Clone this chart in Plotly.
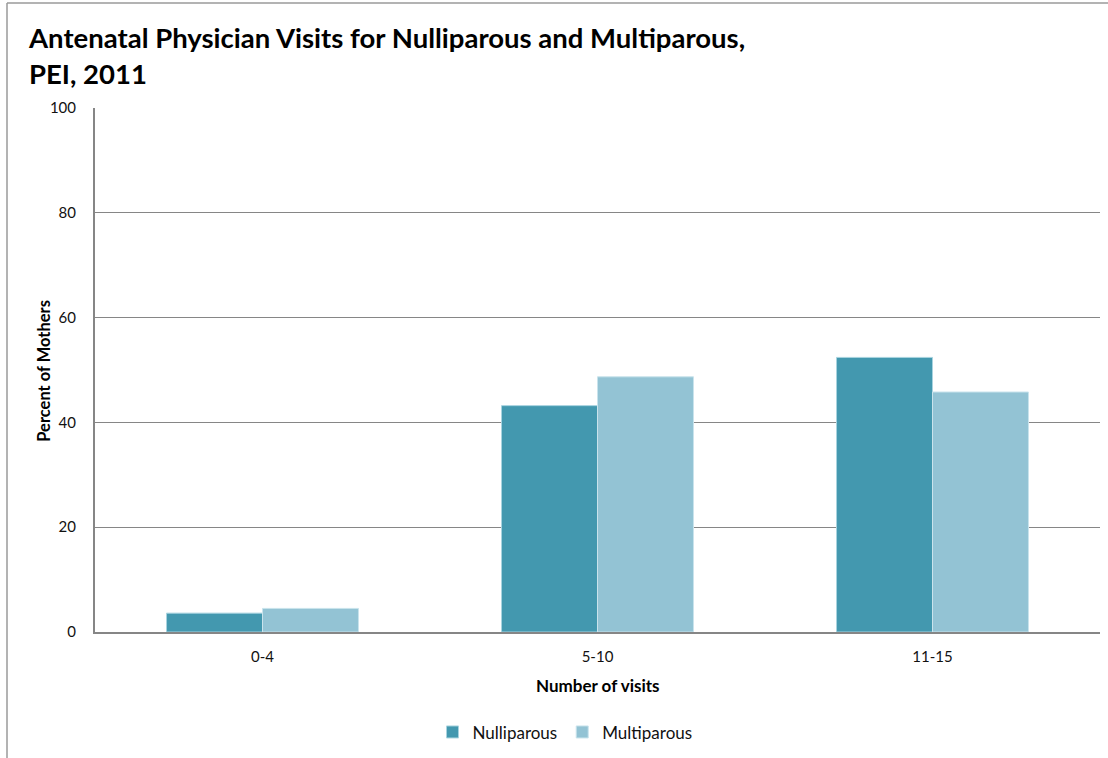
import plotly.graph_objects as go

# Visit-count bins and share of mothers (%) by parity
visit_bins = ["0-4", "5-10", "11-15"]
nulliparous = [3.6, 43.2, 52.4]
multiparous = [4.5, 48.7, 45.8]
y_ticks = [0, 20, 40, 60, 80, 100]

FONT = "Lato, 'Open Sans', sans-serif"
NULLI_COLOR = "#4398AF"
MULTI_COLOR = "#93C3D4"

# Plot-area geometry in pixels (used to place titles in paper units)
L, R, T, B = 95, 1100, 108, 632.5
W, H = R - L, B - T


def px_x(px):
    return (px - L) / W


def px_y(py):
    return (B - py) / H


fig = go.Figure()
fig.add_trace(go.Bar(
    name="Nulliparous", x=visit_bins, y=nulliparous,
    marker=dict(color=NULLI_COLOR, line=dict(color="#A8D3DF", width=1)),
))
fig.add_trace(go.Bar(
    name="Multiparous", x=visit_bins, y=multiparous,
    marker=dict(color=MULTI_COLOR, line=dict(color="#C9E3EC", width=1)),
))

fig.update_layout(
    width=1108, height=758,
    margin=dict(l=L, r=1108 - R, t=T, b=758 - B),
    paper_bgcolor="white", plot_bgcolor="white",
    barmode="group", bargap=0.427, bargroupgap=0,
    font=dict(family=FONT, color="#000000"),
    xaxis=dict(
        showline=True, linecolor="#868686", linewidth=2,
        ticks="", tickfont=dict(size=15, family=FONT, color="#111111"),
        ticklabelstandoff=10,
    ),
    yaxis=dict(
        range=[0, 100], tickvals=y_ticks,
        showline=True, linecolor="#868686", linewidth=2,
        showgrid=True, gridcolor="#868686", gridwidth=1,
        zeroline=False,
        ticks="", tickfont=dict(size=15, family=FONT, color="#111111"),
        ticklabelstandoff=14,
    ),
    legend=dict(
        orientation="h", x=px_x(565), xanchor="center",
        y=px_y(733), yanchor="middle",
        font=dict(size=17, family=FONT, color="#111111"),
        traceorder="normal",
    ),
    annotations=[
        dict(text="<b>Antenatal Physician Visits for Nulliparous and Multiparous,<br>PEI, 2011</b>",
             xref="paper", yref="paper", x=px_x(26), y=px_y(19),
             xanchor="left", yanchor="top", align="left", showarrow=False,
             font=dict(size=27.5, family=FONT, color="#000000")),
        dict(text="<b>Percent of Mothers</b>", textangle=-90,
             xref="paper", yref="paper", x=px_x(44), y=px_y(371),
             xanchor="center", yanchor="middle", showarrow=False,
             font=dict(size=16.5, family=FONT, color="#000000")),
        dict(text="<b>Number of visits</b>",
             xref="paper", yref="paper", x=px_x(598), y=px_y(686),
             xanchor="center", yanchor="middle", showarrow=False,
             font=dict(size=17, family=FONT, color="#000000")),
    ],
    # Outer chart frame (left and top edges)
    shapes=[
        dict(type="line", xref="paper", yref="paper",
             x0=px_x(7), x1=px_x(1110), y0=px_y(3), y1=px_y(3),
             line=dict(color="#9A9A9A", width=1.5)),
        dict(type="line", xref="paper", yref="paper",
             x0=px_x(7), x1=px_x(7), y0=px_y(3), y1=px_y(760),
             line=dict(color="#9A9A9A", width=1.5)),
    ],
)

fig.write_html("out.html")
